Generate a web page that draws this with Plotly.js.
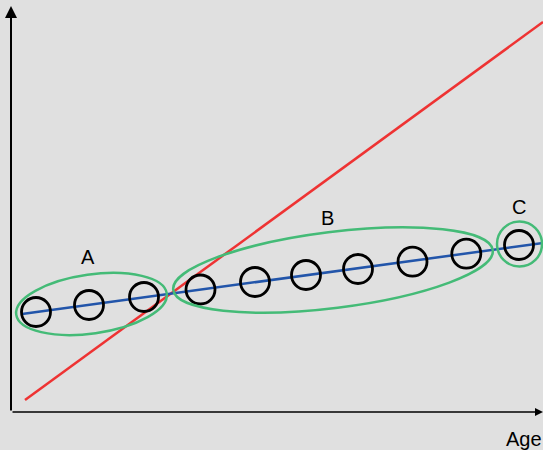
<!DOCTYPE html>
<html>
<head>
<meta charset="utf-8">
<script src="https://cdn.plot.ly/plotly-3.0.1.min.js"></script>
<style>
  html, body { margin: 0; padding: 0; background: #e0e0e0; }
  #chart { width: 543px; height: 450px; }
</style>
</head>
<body>
<div id="chart"></div>
<script>
const obsAge = [25, 78, 133, 189.5, 244, 295, 347, 401.5, 455.3, 508];
const obsValue = [100, 107, 115, 122.5, 130, 137, 143, 150.3, 158.3, 167];

// Fitted trend (blue) and steep reference line (red)
const trendAge = [11, 532];
const trendValue = [98, 169];
const steepAge = [14, 532];
const steepValue = [12, 390];

// Group labels
const groupLabels = ['A', 'B', 'C'];
const groupLabelAge = [77, 316, 508];
const groupLabelValue = [155, 194, 205];

// Group outlines: centre, half-axes, tilt in degrees
const groupOutlines = [
    { cx: 80.5, cy: 108, rx: 76, ry: 29.5, tilt: 8 },
    { cx: 322, cy: 142, rx: 161, ry: 38, tilt: 7.1 },
    { cx: 508.5, cy: 168, rx: 22.5, ry: 22.5, tilt: 0 }
];

// Rotated ellipse as four cubic Bezier arcs
function ellipsePath(e) {
    const k = 0.5523;
    const t = e.tilt * Math.PI / 180;
    const c = Math.cos(t), s = Math.sin(t);
    const p = (u, v) => {
        const x = e.cx + u * c - v * s;
        const y = e.cy + u * s + v * c;
        return x.toFixed(2) + ',' + y.toFixed(2);
    };
    const a = e.rx, b = e.ry;
    return 'M' + p(a, 0) +
        ' C' + p(a, k * b) + ' ' + p(k * a, b) + ' ' + p(0, b) +
        ' C' + p(-k * a, b) + ' ' + p(-a, k * b) + ' ' + p(-a, 0) +
        ' C' + p(-a, -k * b) + ' ' + p(-k * a, -b) + ' ' + p(0, -b) +
        ' C' + p(k * a, -b) + ' ' + p(a, -k * b) + ' ' + p(a, 0) + ' Z';
}

const traces = [
    {
        x: steepAge, y: steepValue,
        type: 'scatter', mode: 'lines',
        line: { color: '#ee3333', width: 2.5 },
        hoverinfo: 'skip'
    },
    {
        x: trendAge, y: trendValue,
        type: 'scatter', mode: 'lines',
        line: { color: '#2255aa', width: 2.5 },
        hoverinfo: 'skip'
    },
    {
        x: obsAge, y: obsValue,
        type: 'scatter', mode: 'markers',
        marker: { symbol: 'circle-open', size: 29, color: '#000000', line: { width: 2.8 } },
        hoverinfo: 'skip'
    }
];

const shapes = groupOutlines.map(e => ({
    type: 'path',
    xref: 'x', yref: 'y',
    path: ellipsePath(e),
    line: { color: '#44bb77', width: 2.5 },
    fillcolor: 'rgba(0,0,0,0)',
    layer: 'above'
}));

const labelFont = { family: 'Liberation Sans, Arial, sans-serif', size: 20, color: '#000000' };

const annotations = groupLabels.map((g, i) => ({
    x: groupLabelAge[i], y: groupLabelValue[i],
    xref: 'x', yref: 'y',
    text: g, showarrow: false,
    font: labelFont
}));

annotations.push({
    x: 513, y: -27 / 412, xref: 'x', yref: 'paper',
    xanchor: 'center', yanchor: 'middle',
    text: 'Age', showarrow: false, font: labelFont
});

// axis arrows
annotations.push({
    x: 0, y: 406, ax: 0, ay: 0, axref: 'x', ayref: 'y',
    xref: 'x', yref: 'y', text: '', showarrow: true,
    arrowhead: 2, arrowsize: 1.2, arrowwidth: 2, arrowcolor: '#000000'
});
annotations.push({
    x: 532, y: 0, ax: 0, ay: 0, axref: 'x', ayref: 'y',
    xref: 'x', yref: 'y', text: '', showarrow: true,
    arrowhead: 2, arrowsize: 1, arrowwidth: 1.6, arrowcolor: '#000000'
});

const axisBase = {
    showgrid: false, zeroline: false, showticklabels: false,
    ticks: '', showline: false, fixedrange: true
};

const layout = {
    width: 543, height: 450,
    margin: { l: 11, r: 0, t: 0, b: 38 },
    paper_bgcolor: '#e0e0e0',
    plot_bgcolor: '#e0e0e0',
    showlegend: false,
    xaxis: Object.assign({ range: [0, 532] }, axisBase),
    yaxis: Object.assign({ range: [0, 412] }, axisBase),
    shapes: shapes,
    annotations: annotations
};

Plotly.newPlot('chart', traces, layout, { displayModeBar: false, staticPlot: true });
</script>
</body>
</html>
